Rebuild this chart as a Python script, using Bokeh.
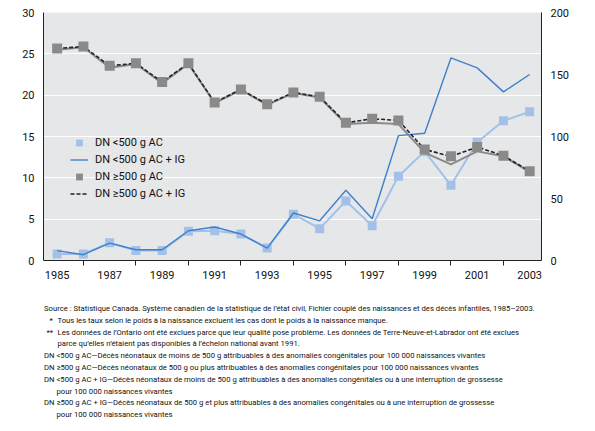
from bokeh.plotting import figure
from bokeh.layouts import column
from bokeh.models import Range1d, LinearAxis, FixedTicker, Legend, LegendItem, Label
from bokeh.embed import file_html
from bokeh.resources import INLINE

# ---------------- data ----------------
years = list(range(1985, 2004))
# per 100 000 live births, left axis
lt500_ac = [0.8, 0.8, 2.15, 1.2, 1.2, 3.55, 3.6, 3.2, 1.5, 5.6, 3.85, 7.2, 4.2, 10.2, 13.2, 9.1, 14.3, 16.9, 18.0]
lt500_ac_ig = [1.2, 0.7, 2.1, 1.3, 1.3, 3.6, 4.05, 3.2, 1.5, 5.75, 4.8, 8.5, 5.05, 15.1, 15.4, 24.5, 23.3, 20.4, 22.5]
# per 100 000 live births, right axis
ge500_ac = [170, 172, 155.5, 158.5, 143, 158.5, 127, 137.5, 125.5, 135, 131.5, 110, 111, 110, 87, 77.5, 88, 84, 71.5]
ge500_ac_ig = [171, 172.5, 157, 159, 144, 159, 127.5, 138, 126, 135.5, 132, 111, 114.3, 113, 89.5, 84, 91.5, 84.5, 72]

left_ticks = [0, 5, 10, 15, 20, 25, 30]
right_ticks = [0, 50, 100, 150, 200]
x_label_years = list(range(1985, 2004, 2))
x_tick_years = list(range(1986, 2003, 2))

legend_labels = ["DN <500 g AC", "DN <500 g AC + IG", "DN \u2265500 g AC", "DN \u2265500 g AC + IG"]

note_texts = [
    "Source : Statistique Canada. Syst\u00e8me canadien de la statistique de l\u2019\u00e9tat civil, Fichier coupl\u00e9 des naissances et des d\u00e9c\u00e8s infantiles, 1985\u20132003.",
    "*",
    "Tous les taux selon le poids \u00e0 la naissance excluent les cas dont le poids \u00e0 la naissance manque.",
    "**",
    "Les donn\u00e9es de l\u2019Ontario ont \u00e9t\u00e9 exclues parce que leur qualit\u00e9 pose probl\u00e8me. Les donn\u00e9es de Terre-Neuve-et-Labrador ont \u00e9t\u00e9 exclues",
    "parce qu\u2019elles n\u2019\u00e9taient pas disponibles \u00e0 l\u2019\u00e9chelon national avant 1991.",
    "DN <500 g AC\u2014D\u00e9c\u00e8s n\u00e9onataux de moins de 500 g attribuables \u00e0 des anomalies cong\u00e9nitales pour 100\u00a0000 naissances vivantes",
    "DN \u2265500 g AC\u2014D\u00e9c\u00e8s n\u00e9onataux de 500 g ou plus attribuables \u00e0 des anomalies cong\u00e9nitales pour 100\u00a0000 naissances vivantes",
    "DN <500 g AC + IG\u2014D\u00e9c\u00e8s n\u00e9onataux de moins de 500 g attribuables \u00e0 des anomalies cong\u00e9nitales ou \u00e0 une interruption de grossesse",
    "pour 100\u00a0000 naissances vivantes",
    "DN \u2265500 g AC + IG\u2014D\u00e9c\u00e8s n\u00e9onataux de 500 g et plus attribuables \u00e0 des anomalies cong\u00e9nitales ou \u00e0 une interruption de grossesse",
    "pour 100\u00a0000 naissances vivantes",
]
# layout of notes: x position (page px) and line index
note_x = [43.5, 49, 57, 46, 57, 57, 43.5, 43.5, 43.5, 56, 43.5, 56]
note_line = [0, 1, 1, 2, 2, 3, 4, 5, 6, 7, 8, 9]

FONT = "Roboto"
LIGHT_BLUE = "#a3c1e8"
DARK_BLUE = "#3f80cc"
GRAY = "#8a8a8a"
TXT = "#111111"

CHART_H = 290
NOTES_H = 135
W = 580
FRAME_L = 43
FRAME_R = 541

p = figure(width=W, height=CHART_H,
           x_range=Range1d(1984.48, 2003.45), y_range=Range1d(0, 30),
           output_backend="svg", toolbar_location=None,
           min_border_left=FRAME_L, min_border_right=W - FRAME_R, min_border_top=12, min_border_bottom=30)
p.extra_y_ranges = {"right": Range1d(0, 200)}
p.background_fill_color = "#e6e7e8"
p.border_fill_color = "white"
p.outline_line_color = None

# grid
p.xgrid.visible = False
p.ygrid.ticker = FixedTicker(ticks=left_ticks)
p.ygrid.grid_line_color = "white"
p.ygrid.grid_line_width = 1.2

# series
r_lb_line = p.line(years, lt500_ac, line_color=LIGHT_BLUE, line_width=2)
r_lb_sq = p.scatter(years, lt500_ac, marker="square", size=9, fill_color=LIGHT_BLUE, line_color=None)
r_db_line = p.line(years, lt500_ac_ig, line_color=DARK_BLUE, line_width=1.4)
r_g_line = p.line(years, ge500_ac, y_range_name="right", line_color=GRAY, line_width=2)
r_k_dash = p.line(years, ge500_ac_ig, y_range_name="right", line_color="#222222", line_width=1.6, line_dash="4 2")
r_g_sq = p.scatter(years, ge500_ac_ig, y_range_name="right", marker="square", size=10, fill_color=GRAY, line_color=None)


def style_axis(ax):
    ax.major_tick_in = 0
    ax.minor_tick_in = 0
    ax.axis_line_color = "#222222"
    ax.major_label_text_font = FONT
    ax.major_label_text_font_size = "11px"
    ax.major_label_text_color = TXT


# x axis
xa = p.xaxis[0]
style_axis(xa)
xa.ticker = FixedTicker(ticks=x_label_years, minor_ticks=x_tick_years)
xa.major_tick_out = 0
xa.minor_tick_out = 5
xa.minor_tick_line_color = "#222222"
xa.major_label_standoff = 5

# left axis
ya = p.yaxis[0]
style_axis(ya)
ya.ticker = FixedTicker(ticks=left_ticks)
ya.major_tick_out = 0
ya.minor_tick_out = 0
ya.major_label_standoff = 9

# right axis
ra = LinearAxis(y_range_name="right", ticker=FixedTicker(ticks=right_ticks))
style_axis(ra)
ra.major_tick_out = 0
ra.minor_tick_out = 0
ra.major_label_standoff = 9
p.add_layout(ra, "right")

# legend
legend = Legend(items=[
    LegendItem(label=legend_labels[0], renderers=[r_lb_sq]),
    LegendItem(label=legend_labels[1], renderers=[r_db_line]),
    LegendItem(label=legend_labels[2], renderers=[r_g_sq]),
    LegendItem(label=legend_labels[3], renderers=[r_k_dash]),
], location=(27, 58), glyph_width=18, glyph_height=17, label_height=17,
    spacing=0, padding=0, margin=0, label_standoff=7,
    background_fill_alpha=0, border_line_color=None,
    label_text_font=FONT, label_text_font_size="11px", label_text_color=TXT)
p.add_layout(legend)

# notes panel below the chart (its frame is aligned with the chart frame,
# so the x range is expressed in page pixels between the frame edges)
notes = figure(width=W, height=NOTES_H, x_range=Range1d(FRAME_L, FRAME_R), y_range=Range1d(NOTES_H, 0),
               output_backend="svg", toolbar_location=None,
               x_axis_location=None, y_axis_location=None,
               min_border_left=FRAME_L, min_border_right=W - FRAME_R, min_border_top=0, min_border_bottom=0)
notes.grid.visible = False
notes.outline_line_color = None
notes.background_fill_color = "white"
notes.border_fill_color = "white"

first_line = 308 - CHART_H
line_step = 11.8
for t, nx, nl in zip(note_texts, note_x, note_line):
    notes.add_layout(Label(x=nx, y=first_line + nl * line_step, text=t,
                           text_font=FONT, text_font_size="7.7px", text_color=TXT,
                           text_baseline="middle", text_align="left"))

open("out.html", "w").write(file_html(column(p, notes), INLINE))
